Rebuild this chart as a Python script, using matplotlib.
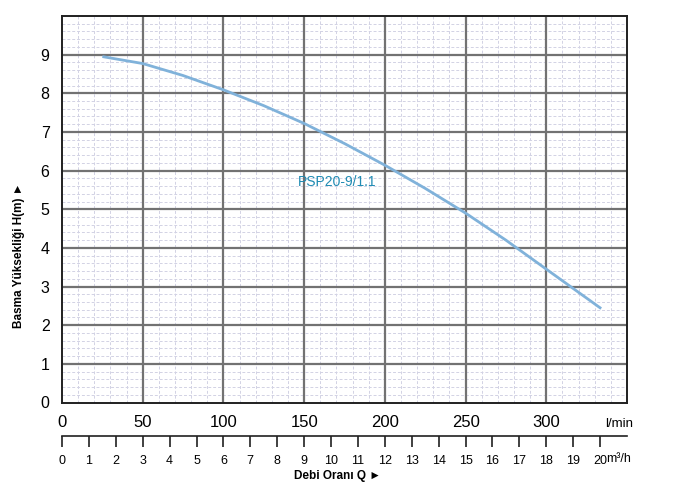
import matplotlib
matplotlib.use("Agg")
import matplotlib.pyplot as plt
from matplotlib.ticker import MultipleLocator

plt.rcParams['font.family'] = ['Liberation Sans', 'DejaVu Sans']

# Data (flow in l/min, head in m)
flow_lpm = [25, 50, 75, 100, 125, 150, 175, 200, 225, 250, 275, 300, 334]
head_m = [8.95, 8.77, 8.46, 8.09, 7.68, 7.22, 6.70, 6.14, 5.54, 4.90, 4.20, 3.45, 2.43]
x_ticks_lpm = [0, 50, 100, 150, 200, 250, 300]
y_ticks = [0, 1, 2, 3, 4, 5, 6, 7, 8, 9]
m3h_ticks = list(range(0, 21))
series_label = "PSP20-9/1.1"

W, H = 697, 497
fig = plt.figure(figsize=(W / 100, H / 100), dpi=100)

left, right, top, bottom = 62, 627, 16, 402.5
ax = fig.add_axes([left / W, 1 - bottom / H, (right - left) / W, (bottom - top) / H])
ax.set_xlim(0, 350)
ax.set_ylim(0, 10)

ax.set_xticks(x_ticks_lpm)
ax.set_yticks(y_ticks)
ax.xaxis.set_minor_locator(MultipleLocator(10))
ax.yaxis.set_minor_locator(MultipleLocator(0.2))

ax.grid(which='minor', color='#d2d2e4', linestyle=(0, (3, 2)), linewidth=0.7)
ax.set_axisbelow(True)
for xv in x_ticks_lpm[1:]:
    ax.axvline(xv, color='#727272', linewidth=1.6, zorder=1.5)
for yv in y_ticks[1:]:
    ax.axhline(yv, color='#727272', linewidth=1.6, zorder=1.5)

for s in ax.spines.values():
    s.set_color('#202020')
    s.set_linewidth(1.4)

ax.tick_params(which='both', length=0)
ax.tick_params(axis='x', labelsize=12, pad=9)
ax.tick_params(axis='y', labelsize=11.5, pad=9)

ax.plot(flow_lpm, head_m, color='#80b2da', linewidth=2.0, solid_capstyle='butt',
        solid_joinstyle='round', zorder=3)

ax.text(146, 5.7, series_label, color='#1f8bb3', fontsize=10, ha='left', va='center', zorder=4)

fig.text(605 / W, 1 - 424 / H, "l/min", fontsize=9.5, ha='left', va='center')

ax.set_ylabel("Basma Yüksekliği H(m) ►", fontsize=8.5, fontweight='bold')
ax.yaxis.set_label_coords((25 - 62) / (right - left), (bottom - 255) / (bottom - top))

# Secondary scale in m3/h
line_y = 436
ax2 = fig.add_axes([left / W, 1 - line_y / H, (right - left) / W, 0.0001])
ax2.set_xlim(0, 350)
ax2.set_yticks([])
for k in ['top', 'left', 'right']:
    ax2.spines[k].set_visible(False)
ax2.spines['bottom'].set_linewidth(1.2)
ax2.spines['bottom'].set_color('#202020')
m3h_pos = [m * 1000 / 60 for m in m3h_ticks]
ax2.set_xticks(m3h_pos)
ax2.set_xticklabels([str(m) for m in m3h_ticks])
ax2.tick_params(axis='x', direction='out', length=8, width=1.2, labelsize=9, pad=6, color='#202020')
ax2.patch.set_visible(False)

fig.text(606 / W, 1 - 459 / H, "m³/h", fontsize=9, ha='left', va='center')

fig.text(337 / W, 1 - 476 / H, "Debi Oranı Q ►", fontsize=8.5, fontweight='bold', ha='center', va='center')

fig.savefig("out.png", dpi=100)
